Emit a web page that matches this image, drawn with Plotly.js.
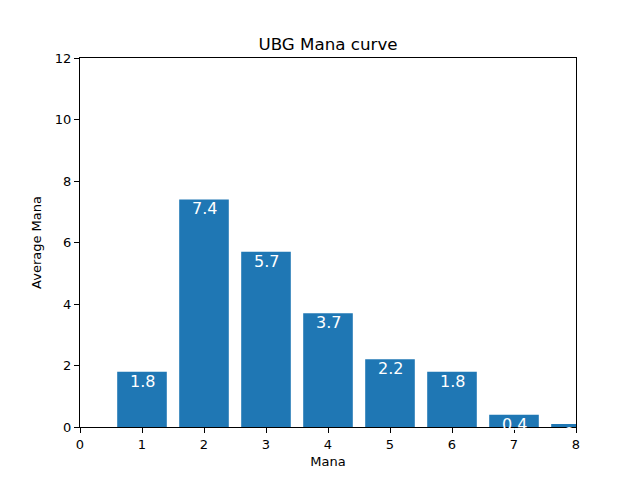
<!DOCTYPE html>
<html><head><meta charset="utf-8">
<script src="https://cdn.plot.ly/plotly-3.0.1.min.js"></script>
<style>body{margin:0;padding:0;background:#fff}</style>
</head><body>
<div id="chart" style="width:640px;height:480px"></div>
<script>
const manaCost = [1, 2, 3, 4, 5, 6, 7, 8];
const avgMana = [1.8, 7.4, 5.7, 3.7, 2.2, 1.8, 0.4, 0.1];
const labels = ["1.8", "7.4", "5.7", "3.7", "2.2", "1.8", "0.4", "0.1"];
const xTicks = [0, 1, 2, 3, 4, 5, 6, 7, 8];
const yTicks = [0, 2, 4, 6, 8, 10, 12];

const font = "DejaVu Sans, sans-serif";
const trace = {
  type: 'bar', x: manaCost, y: avgMana, width: 0.8,
  marker: {color: '#1f77b4', line: {width: 0}},
  hoverinfo: 'none'
};
const annotations = manaCost.map((x, i) => ({
  x: x, y: avgMana[i], xref: 'x', yref: 'y', text: labels[i],
  showarrow: false, yanchor: 'top', xanchor: 'center', yshift: 2,
  font: {family: font, size: 16, color: '#ffffff'}
}));
const axisCommon = {
  showgrid: false, zeroline: false, showline: true, mirror: true,
  linecolor: '#000', linewidth: 1, ticks: 'outside', ticklen: 5,
  tickwidth: 1, tickcolor: '#000', tickfont: {family: font, size: 13, color: '#000'}
};
const layout = {
  width: 640, height: 480,
  margin: {l: 80, r: 64, t: 58, b: 53},
  paper_bgcolor: '#fff', plot_bgcolor: '#fff',
  showlegend: false,
  title: {text: 'UBG Mana curve', font: {family: font, size: 16.7, color: '#000'},
          x: 0.5, xanchor: 'center', xref: 'paper', y: 1, yref: 'paper', yanchor: 'bottom', pad: {b: 8}},
  xaxis: Object.assign({}, axisCommon, {range: [0, 8], tickmode: 'array', tickvals: xTicks,
    ticktext: xTicks.map(String),
    title: {text: 'Mana', font: {family: font, size: 13, color: '#000'}, standoff: 6}}),
  yaxis: Object.assign({}, axisCommon, {range: [0, 12], tickmode: 'array', tickvals: yTicks,
    ticktext: yTicks.map(String),
    title: {text: 'Average Mana', font: {family: font, size: 13, color: '#000'}, standoff: 10}}),
  annotations: annotations
};
Plotly.newPlot('chart', [trace], layout, {staticPlot: true, displayModeBar: false});
</script>
</body></html>
